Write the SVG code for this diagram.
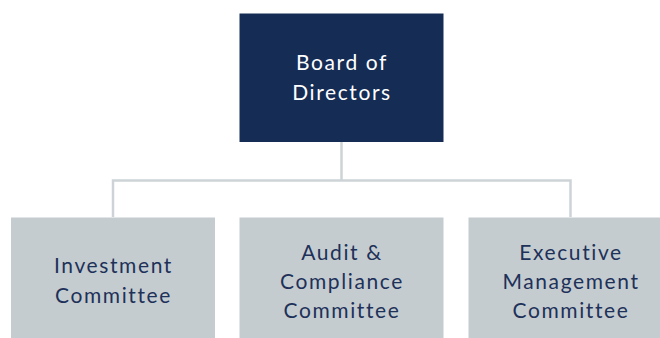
<svg xmlns="http://www.w3.org/2000/svg" width="660" height="338" viewBox="0 0 660 338">
<style>
.top{fill:#152c55}
.sub{fill:#c5ccd0}
.t{font-family:Lato,"Open Sans","Liberation Sans",sans-serif;font-size:21px;text-anchor:middle;letter-spacing:1.6px}
.tw{fill:#ffffff}
.td{fill:#1d3159}
.c{stroke:#cdd3d6;stroke-width:2.5;fill:none}
</style>
<rect width="660" height="338" fill="#ffffff"/>
<g id="connectors">
<path class="c" d="M341.5 142 V180.5 M113 217 V180.5 H570.5 V217"/>
</g>
<g id="board">
<rect class="top" x="239.5" y="13.5" width="204" height="128.5"/>
<text class="t tw" x="342" y="70">Board of</text>
<text class="t tw" x="342" y="100">Directors</text>
</g>
<g id="investment">
<rect class="sub" x="11" y="217.5" width="204" height="130"/>
<text class="t td" x="113.5" y="273">Investment</text>
<text class="t td" x="113.5" y="303">Committee</text>
</g>
<g id="audit">
<rect class="sub" x="239.5" y="217.5" width="204" height="130"/>
<text class="t td" x="342" y="260">Audit &amp;</text>
<text class="t td" x="342" y="289">Compliance</text>
<text class="t td" x="342" y="318">Committee</text>
</g>
<g id="executive">
<rect class="sub" x="468.5" y="217.5" width="204" height="130"/>
<text class="t td" x="571" y="260">Executive</text>
<text class="t td" x="571" y="289">Management</text>
<text class="t td" x="571" y="318">Committee</text>
</g>
</svg>
